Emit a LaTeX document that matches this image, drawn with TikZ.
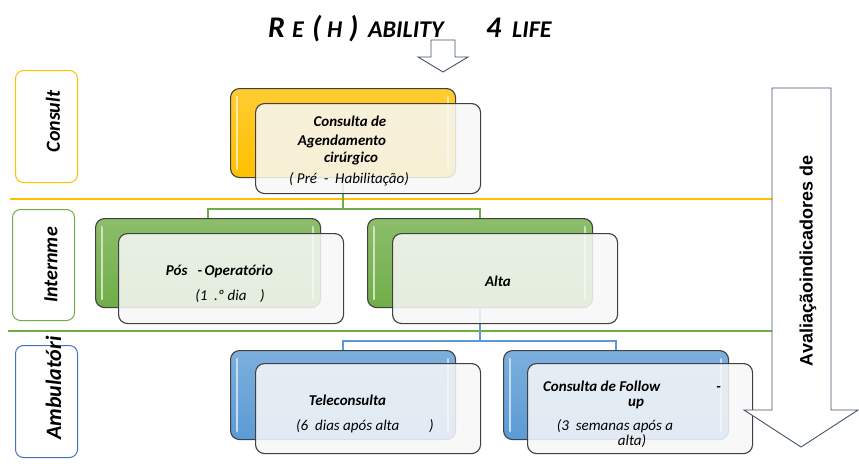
\documentclass[tikz,border=0pt]{standalone}
\usepackage{fontspec}
\setmainfont{Carlito}
\newfontfamily\arialfont{Liberation Sans}
\usetikzlibrary{positioning,calc}

\definecolor{ylw}{HTML}{FFC000}
\definecolor{grn}{HTML}{70AD47}
\definecolor{blu}{HTML}{5B9BD5}
\definecolor{darkblu}{HTML}{4472C4}
\definecolor{edge}{HTML}{404040}
\definecolor{slate}{HTML}{44546A}
\definecolor{paper}{HTML}{F8F8F8}

\begin{document}
\begin{tikzpicture}[x=1pt, y=-1pt,
  backbox/.style = {draw=edge, line width=1.1pt, rounded corners=9pt, minimum width=225pt, minimum height=89pt, inner sep=0pt, anchor=north west},
  frontbox/.style = {draw=edge, line width=1.1pt, rounded corners=9pt, fill=paper, fill opacity=0.86, minimum width=225pt, minimum height=90pt, inner sep=0pt, anchor=north west},
  rowbox/.style = {line width=1pt, rounded corners=8pt, minimum width=62pt, minimum height=112pt, anchor=north west},
  rowlabel/.style = {rotate=90, inner sep=0pt, font=\fontsize{20}{24}\selectfont\bfseries\itshape},
  boxtxt/.style = {inner sep=0pt, text height=10pt, text depth=3pt, font=\fontsize{15}{18}\selectfont\bfseries\itshape},
  subtxt/.style = {inner sep=0pt, text height=10pt, text depth=3pt, font=\fontsize{15}{18}\selectfont\itshape},
  big/.style = {anchor=base west, inner sep=0pt, font=\fontsize{30}{30}\selectfont\bfseries\itshape},
  small/.style = {anchor=base west, inner sep=0pt, font=\fontsize{24}{24}\selectfont\bfseries\itshape},
  sep/.style = {line width=2pt},
  link/.style = {line width=1.6pt},
  blockarrow/.style = {draw=slate, line width=0.9pt, fill=white, line join=miter}
]
\path[use as bounding box, fill=white] (0,0) rectangle (859,466);

% title
\node[big] (t1) at (268,37) {R};
\node[small] (t2) at (292,37) {E};
\node[big] (t3) at (312,37) {(};
\node[small] (t4) at (327,37) {H};
\node[big] (t5) at (349,37) {)};
\node[small] (t6) at (368,37) {ABILITY};
\node[big] (t7) at (486,37) {4};
\node[small] (t8) at (512,37) {LIFE};
\draw[blockarrow] (431,40) -- (455,40) -- (455,57) -- (468,57) -- (443,72) -- (418,57) -- (431,57) -- cycle;

% row labels
\node[rowbox, draw=ylw] (consbox) at (15,70) {};
\node[rowbox, draw=grn, minimum height=111pt] (intbox) at (12,209) {};
\node[rowbox, draw=darkblu] (ambbox) at (15,345) {};
\node[rowlabel] (conslbl) at (53,121.5) {Consult};
\node[rowlabel] (intlbl) at (51,265) {Internme};
\node[rowlabel, font=\fontsize{22}{24}\selectfont\bfseries\itshape] (amblbl) at (53.5,388) {Ambulatóri};

% separators
\draw[sep, ylw] (10,199) -- (772,199);
\draw[sep, grn] (8,331) -- (772,331);

% back boxes
\foreach \n/\x/\y/\c in {con/230/88/ylw, pos/95/218/grn, alt/367/218/grn, tel/230/350/blu, fol/503/350/blu} {
  \node[backbox, top color=\c!80!white, bottom color=\c] (\n-b) at (\x,\y) {};
  \draw[\c!35!white, line width=2.5pt, line cap=round] ($(\n-b.north west)+(7,9)$) -- ($(\n-b.south west)+(7,-9)$);
  \draw[\c!35!white, line width=2.5pt, line cap=round] ($(\n-b.north east)+(-8,9)$) -- ($(\n-b.south east)+(-8,-9)$);
}

% connectors
\draw[link, grn] (con-b.south) -- +(0,31) -| (pos-b.north);
\draw[link, grn] (con-b.south) -- +(0,31) -| (alt-b.north);
\draw[link, blu] (alt-b.south) -- +(0,33) -| (tel-b.north);
\draw[link, blu] (alt-b.south) -- +(0,33) -| (fol-b.north);

% front boxes
\foreach \n/\x/\y in {con/255/103, pos/118/233, alt/392/233, tel/255/363, fol/527/363}
  \node[frontbox] (\n-f) at (\x,\y) {};

% texts
\node[boxtxt] (con1) at (350,123) {Consulta de};
\node[boxtxt] (con2) at (342,142) {Agendamento};
\node[boxtxt] (con3) at (351,159) {cirúrgico};
\node[subtxt] (con4) at (349,180) {( Pré\ \ -\ \ Habilitação)};
\node[boxtxt] (pos1) at (219.5,272) {Pós\ \ \ -\,Operatório};
\node[subtxt] (pos2) at (230,297) {(1\ \ .º dia\ \ \ \ )};
\node[boxtxt] (alt1) at (498,283) {Alta};
\node[boxtxt] (tel1) at (347.5,402) {Teleconsulta};
\node[subtxt] (tel2) at (365,427) {(6\ \ dias após alta\hspace{30pt})};
\node[boxtxt, anchor=west] (fol1) at (543,388) {Consulta de Follow\hspace{56pt}-};
\node[boxtxt] (fol2) at (636,403) {up};
\node[subtxt] (fol3) at (615,427) {(3\ \ semanas após a};
\node[subtxt] (fol4) at (632,442) {alta)};

% evaluation arrow
\draw[blockarrow] (772,88) -- (831,88) -- (831,410) -- (858,410) -- (801,447) -- (744,410) -- (772,410) -- cycle;
\node[rotate=90, inner sep=0pt, font=\arialfont\bfseries\fontsize{18}{20}\selectfont] (evaltxt) at (808,261) {Avaliaçãoindicadores de};
\end{tikzpicture}
\end{document}
